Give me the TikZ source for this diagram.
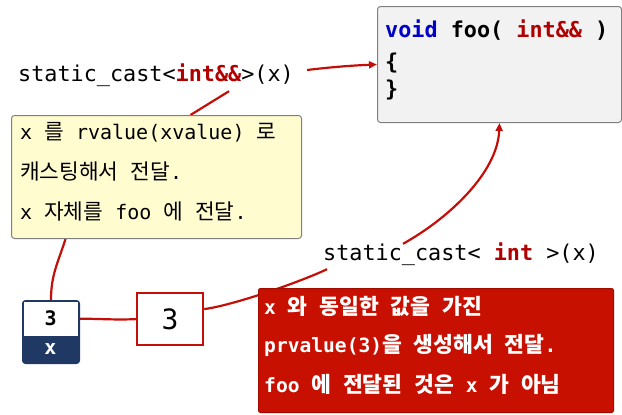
\documentclass[tikz,border=0pt]{standalone}
\usepackage{fontspec}
\setmainfont{DejaVu Sans Mono}
\newfontfamily\krfont[Scale=1.07]{Noto Sans CJK KR}
\newfontfamily\krbig[Scale=1.1]{Noto Sans CJK KR}
\newcommand\hangul[1]{{\krfont #1}}
\newcommand\hangulb[1]{{\krbig #1}}
\usetikzlibrary{arrows.meta,backgrounds}
\definecolor{conn}{RGB}{196,14,8}
\definecolor{kwred}{RGB}{176,0,0}
\definecolor{kwblue}{RGB}{0,0,200}
\definecolor{navy}{RGB}{31,56,100}
\definecolor{redfill}{RGB}{200,16,0}
\definecolor{yelfill}{RGB}{255,252,208}
\definecolor{grayfill}{RGB}{242,242,242}
\definecolor{boxline}{RGB}{128,128,128}
\tikzset{
  code/.style={font=\fontsize{21.8}{26}\selectfont, inner sep=0pt, anchor=west, text height=0.75em, text depth=0.25em},
  btxt/.style={font=\fontsize{20}{24}\selectfont, inner sep=0pt, anchor=west, text height=0.75em, text depth=0.25em},
  rtxt/.style={btxt, font=\bfseries\fontsize{19.6}{24}\selectfont, text=white},
  boxbase/.style={anchor=north west, inner sep=0pt},
  conline/.style={draw=conn, line width=2.2pt},
  conarrow/.style={conline, -{Triangle[length=8pt,width=7pt]}},
}
\begin{document}
\begin{tikzpicture}[x=1pt,y=-1pt]
\useasboundingbox (0,0) rectangle (622,415);
% foo box
\node[boxbase, draw=boxline, line width=1pt, fill=grayfill, rounded corners=3pt, minimum width=244pt, minimum height=116pt] (foo) at (377,6) {};
\node[code, font=\bfseries\fontsize{21.8}{26}\selectfont] (foo1) at (385,35) {\textcolor{kwblue}{void} foo( \textcolor{kwred}{int\&\&} )};
\node[code, font=\bfseries\fontsize{21.8}{26}\selectfont] (foo2) at (385,67) {\{};
\node[code, font=\bfseries\fontsize{21.8}{26}\selectfont] (foo3) at (385,94) {\}};
% label 1
\node[code] (lab1) at (18,79) {static\_cast<\textcolor{kwred}{\textbf{int\&\&}}>(x)};
% yellow box
\node[boxbase, draw=boxline, line width=1pt, fill=yelfill, rounded corners=3pt, minimum width=290pt, minimum height=123pt] (yellow) at (11,115) {};
\node[btxt] (y1) at (20,137) {x \hangul{를} rvalue(xvalue) \hangul{로}};
\node[btxt] (y2) at (20,177) {\hangul{캐스팅해서} \hangul{전달}.};
\node[btxt] (y3) at (20,217) {x \hangul{자체를} foo \hangul{에} \hangul{전달}.};
% x box
\node[boxbase, draw=navy, fill=navy, line width=1pt, rounded corners=3pt, minimum width=57pt, minimum height=63pt] (xbox) at (22,300) {};
\node[boxbase, fill=white, minimum width=54pt, minimum height=34pt] (xtop) at (23.5,301.5) {};
\node[font=\bfseries\fontsize{20}{24}\selectfont, inner sep=0pt] (xval) at (xtop.center) {3};
\node[font=\bfseries\fontsize{20}{24}\selectfont, text=white, inner sep=0pt] (xname) at (50.5,349) {x};
% 3 box
\node[boxbase, draw=conn, line width=2.2pt, fill=white, minimum width=66pt, minimum height=52pt] (box3) at (136,292) {};
\node[font=\fontsize{28}{30}\selectfont, inner sep=0pt] (box3val) at (box3.center) {3};
% label 2
\node[code] (lab2) at (323,258) {static\_cast< \textcolor{kwred}{\textbf{int}} >(x)};
% red box
\node[boxbase, draw=redfill!80!black, line width=1pt, fill=redfill, rounded corners=2pt, minimum width=355pt, minimum height=124pt] (redbox) at (258,288) {};
\node[rtxt] (r1) at (264,312) {x \hangulb{와} \hangulb{동일한} \hangulb{값을} \hangulb{가진}};
\node[rtxt] (r2) at (264,350) {prvalue(3)\hangulb{을} \hangulb{생성해서} \hangulb{전달}.};
\node[rtxt] (r3) at (264,390) {foo \hangulb{에} \hangulb{전달된} \hangulb{것은} x \hangulb{가} \hangulb{아님}};
% connectors
\begin{scope}[on background layer]
\draw[conarrow] ([xshift=13pt,yshift=9pt]lab1.east) .. controls +(25,-3) and +(-25,1) .. (foo.west);
\draw[conline] ([xshift=34pt]yellow.north) -- ([xshift=73pt,yshift=-7pt]lab1.south);
\draw[conline] ([xshift=-91pt]yellow.south) .. controls +(-8,25) and +(0,-25) .. (xbox.north);
\draw[conline] (xtop.east -| xbox.east) .. controls +(20,0) and +(-20,1) .. (box3.west);
\draw[conline] ([yshift=10pt]box3.east) .. controls +(30,-4) and +(-25,12) .. ([xshift=4pt,yshift=-6pt]lab2.south west);
\draw[conarrow] ([xshift=-58pt,yshift=9pt]lab2.north) .. controls +(45,-25) and +(-2,50) .. (foo.south);
\end{scope}
\end{tikzpicture}
\end{document}
